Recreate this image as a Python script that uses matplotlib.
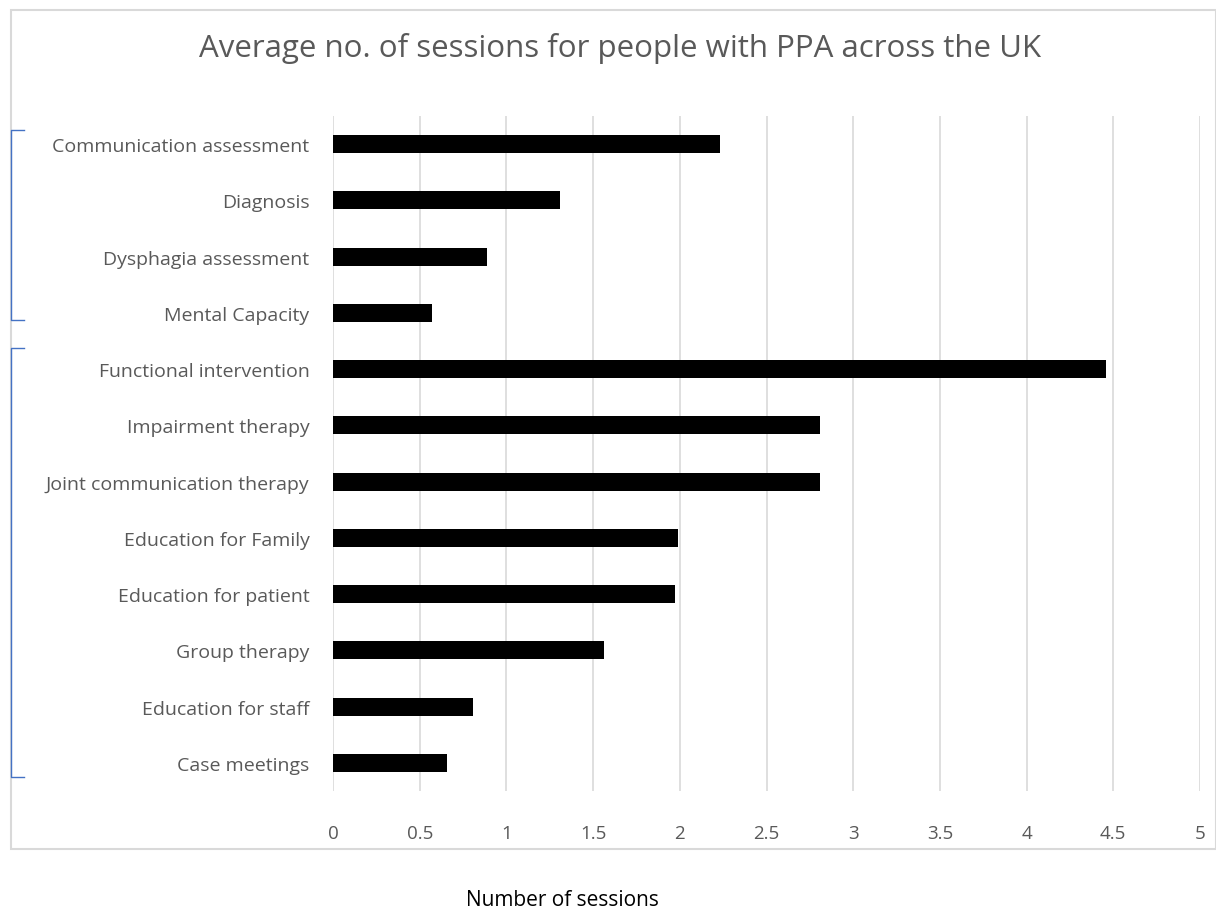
import matplotlib.pyplot as plt
from matplotlib.patches import Rectangle
from matplotlib.lines import Line2D

categories = ['Communication assessment', 'Diagnosis', 'Dysphagia assessment', 'Mental Capacity',
              'Functional intervention', 'Impairment therapy', 'Joint communication therapy',
              'Education for Family', 'Education for patient', 'Group therapy',
              'Education for staff', 'Case meetings']
sessions = [2.23, 1.31, 0.89, 0.57, 4.46, 2.81, 2.81, 1.99, 1.97, 1.56, 0.81, 0.66]
xticks = [0, 0.5, 1, 1.5, 2, 2.5, 3, 3.5, 4, 4.5, 5]
xticklabels = ['0', '0.5', '1', '1.5', '2', '2.5', '3', '3.5', '4', '4.5', '5']

plt.rcParams['font.family'] = ['Open Sans', 'DejaVu Sans']
W, H = 1216, 912
fig = plt.figure(figsize=(12.16, 9.12), dpi=100)

# plot area in pixel coords
left, right, top, bottom = 333, 1200, 117, 792
ax = fig.add_axes([left / W, 1 - bottom / H, (right - left) / W, (bottom - top) / H])

ypos = list(range(len(categories)))
ax.barh(ypos, sessions, height=0.32, color='black', zorder=3)
ax.set_ylim(len(categories) - 0.5, -0.5)
ax.set_xlim(0, 5)
ax.set_xticks(xticks)
ax.set_xticklabels(xticklabels, color='#595959', fontsize=13.5)
ax.set_yticks(ypos)
ax.set_yticklabels(categories, color='#595959', fontsize=14, va='center_baseline')
ax.tick_params(length=0, pad=17)
ax.tick_params(axis='x', pad=24)
ax.grid(axis='x', color='#D9D9D9', linewidth=1.2, zorder=0)
for s in ax.spines.values():
    s.set_visible(False)

# outer chart frame
fig.patches.append(Rectangle((11 / W, 1 - 850 / H), (W - 11) / W, (850 - 11) / H,
                             transform=fig.transFigure, fill=False,
                             edgecolor='#D9D9D9', linewidth=1.5))

fig.text(620 / W, 1 - 49 / H, 'Average no. of sessions for people with PPA across the UK',
         ha='center', va='center', fontsize=22.5, color='#595959')
fig.text(562 / W, 1 - 901 / H, 'Number of sessions', ha='center', va='center',
         fontsize=15, color='black')

# blue group brackets
def bracket(y0, y1):
    xs = [24 / W, 11 / W, 11 / W, 24 / W]
    ys = [1 - y0 / H, 1 - y0 / H, 1 - y1 / H, 1 - y1 / H]
    fig.lines.append(Line2D(xs, ys, transform=fig.transFigure, color='#4472C4', linewidth=1))

bracket(131, 321)
bracket(349, 778)

fig.savefig('out.png', dpi=100)
